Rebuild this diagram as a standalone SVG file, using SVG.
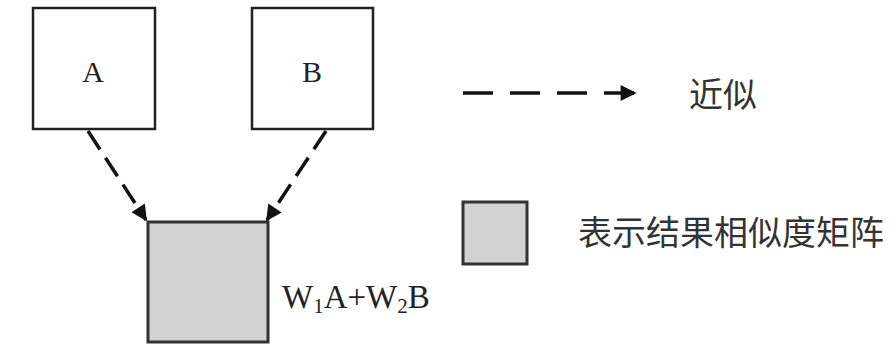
<svg xmlns="http://www.w3.org/2000/svg" width="893" height="351" viewBox="0 0 893 351">
<style>
.box{fill:#fff;stroke:#222;stroke-width:2.5}
.gray{fill:#d2d2d2;stroke:#333;stroke-width:3}
.lbl{font-family:"Liberation Serif","Times New Roman",serif;fill:#222}
.cjk{font-family:"Noto Sans CJK SC","Noto Sans CJK JP",sans-serif;fill:#333;font-size:34px}
.dash{fill:none;stroke:#111;stroke-width:3.5}
</style>
<defs>
<marker id="ah" viewBox="0 0 10 10" refX="9" refY="5" markerWidth="18" markerHeight="16" markerUnits="userSpaceOnUse" orient="auto">
<path d="M0,0 L10,5 L0,10 z" fill="#111"/>
</marker>
</defs>
<rect width="893" height="351" fill="#fff"/>
<g id="nodeA">
<rect class="box" x="33" y="8" width="122" height="121"/>
<text class="lbl" x="93" y="82" font-size="30" text-anchor="middle">A</text>
</g>
<g id="nodeB">
<rect class="box" x="252" y="8" width="121" height="121"/>
<text class="lbl" x="312" y="82" font-size="30" text-anchor="middle">B</text>
</g>
<g id="nodeC">
<rect class="gray" x="148" y="222" width="120" height="120"/>
<text class="lbl" x="282" y="308" font-size="33">W<tspan font-size="21" dy="5">1</tspan><tspan dy="-5">A+W</tspan><tspan font-size="21" dy="5">2</tspan><tspan dy="-5">B</tspan></text>
</g>
<g id="connectors">
<line class="dash" x1="88" y1="131" x2="146" y2="220" stroke-dasharray="22 10" marker-end="url(#ah)"/>
<line class="dash" x1="326" y1="131" x2="267" y2="220" stroke-dasharray="22 10" marker-end="url(#ah)"/>
</g>
<g id="legend-approx">
<line class="dash" x1="463" y1="93" x2="635" y2="93" stroke-dasharray="30 17" marker-end="url(#ah)"/>
<text class="cjk" x="689" y="107">近似</text>
</g>
<g id="legend-matrix">
<rect class="gray" x="463" y="202" width="64" height="62"/>
<text class="cjk" x="578" y="245">表示结果相似度矩阵</text>
</g>
</svg>
